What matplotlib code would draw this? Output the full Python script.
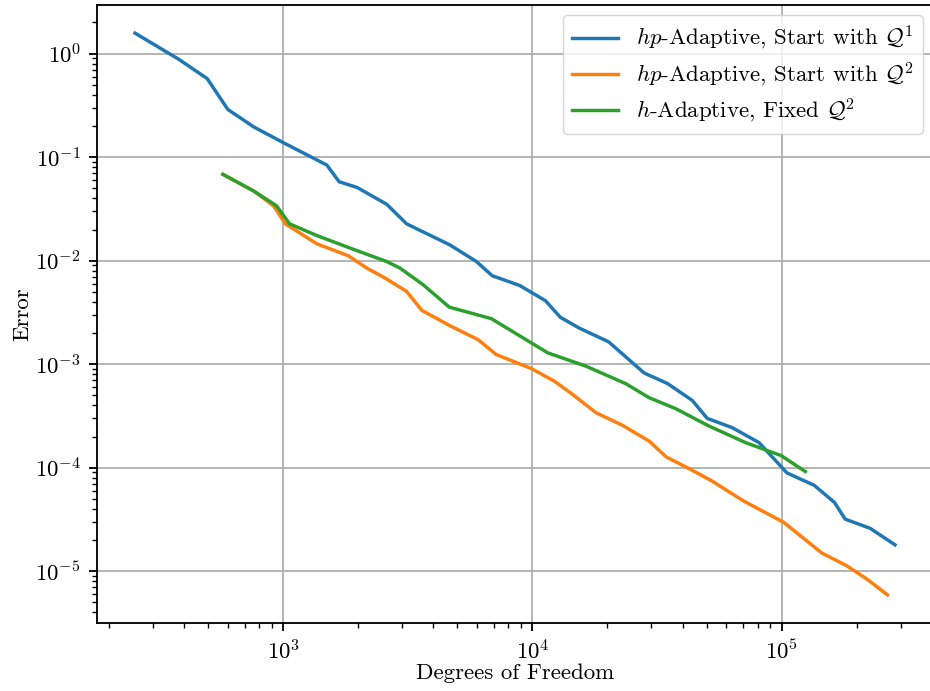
import matplotlib
matplotlib.use("Agg")
import matplotlib.pyplot as plt
import numpy as np

# scale factor from the original (default style, higher dpi)
s = 1.65

plt.rcParams['font.family'] = 'serif'
plt.rcParams['font.serif'] = ['cmr10']
plt.rcParams['mathtext.fontset'] = 'cm'
plt.rcParams['axes.formatter.use_mathtext'] = True
plt.rcParams['font.size'] = 10 * s
plt.rcParams['axes.linewidth'] = 0.8 * s
plt.rcParams['grid.linewidth'] = 0.8 * s
plt.rcParams['lines.linewidth'] = 1.5 * s
for ax_name in ['xtick', 'ytick']:
    plt.rcParams[ax_name + '.major.size'] = 3.5 * s
    plt.rcParams[ax_name + '.minor.size'] = 2 * s
    plt.rcParams[ax_name + '.major.width'] = 0.8 * s
    plt.rcParams[ax_name + '.minor.width'] = 0.6 * s
    plt.rcParams[ax_name + '.major.pad'] = 3.5 * s

# hp-adaptive, start with Q1
dof_hp1 = [254, 381, 495, 599, 761, 1003, 1496, 1675, 1977, 2599, 3125, 4656,
           5955, 6900, 8872, 11272, 12942, 15417, 20230, 28054, 34770, 43774,
           50258, 63271, 81120, 105000, 134900, 162930, 179800, 226400, 285000]
err_hp1 = [1.58, 0.881, 0.574, 0.289, 0.196, 0.1376, 0.0839, 0.0579, 0.0510,
           0.0351, 0.0227, 0.01423, 0.00982, 0.00715, 0.00577, 0.00411,
           0.002836, 0.002232, 0.001643, 0.000823, 0.000652, 0.000447, 0.0003,
           0.000244, 0.000175, 8.91e-5, 6.78e-5, 4.62e-5, 3.19e-5, 2.6e-5, 1.80e-5]

# hp-adaptive, start with Q2
dof_hp2 = [572, 761, 915, 1019, 1364, 1825, 2162, 2559, 3125, 3597, 4656, 6041,
           7157, 9881, 12246, 14497, 17980, 22970, 29380, 34450, 41200, 51860,
           70470, 101900, 145000, 182500, 219400, 266100]
err_hp2 = [0.0683, 0.0471, 0.0338, 0.0227, 0.01455, 0.01115, 0.00849, 0.0068,
           0.00505, 0.00331, 0.00236, 0.00173, 0.00124, 0.000909, 0.000686,
           0.00051, 0.00034, 0.000257, 0.000181, 0.000127, 0.000102, 7.58e-5,
           4.76e-5, 2.97e-5, 1.50e-5, 1.13e-5, 8.43e-6, 5.91e-6]

# h-adaptive, fixed Q2
dof_h2 = [572, 761, 938, 1060, 1364, 1888, 2599, 2938, 3640, 4634, 6836, 11512,
          16400, 23710, 29380, 37570, 51050, 71580, 99540, 124400]
err_h2 = [0.0683, 0.0471, 0.0340, 0.0227, 0.01749, 0.01302, 0.00982, 0.00849,
          0.00586, 0.00356, 0.002756, 0.001288, 0.000957, 0.000648, 0.000475,
          0.000372, 0.000253, 0.000175, 0.000131, 9.19e-5]

fig = plt.figure(figsize=(9.3, 6.91), dpi=100)
ax = fig.add_axes([97 / 930, 1 - 623 / 691, (933 - 97) / 930, (623 - 5) / 691])

ax.loglog(dof_hp1, err_hp1, label=r'$hp$-Adaptive, Start with $\mathcal{Q}^1$')
ax.loglog(dof_hp2, err_hp2, label=r'$hp$-Adaptive, Start with $\mathcal{Q}^2$')
ax.loglog(dof_h2, err_h2, label=r'$h$-Adaptive, Fixed $\mathcal{Q}^2$')

ax.grid(True)
ax.set_xlabel('Degrees of Freedom', labelpad=0)
ax.set_ylabel('Error', labelpad=2)
ax.legend(loc='upper right', labelspacing=0.35, borderaxespad=0.45)

fig.savefig('out.png', dpi=100)
